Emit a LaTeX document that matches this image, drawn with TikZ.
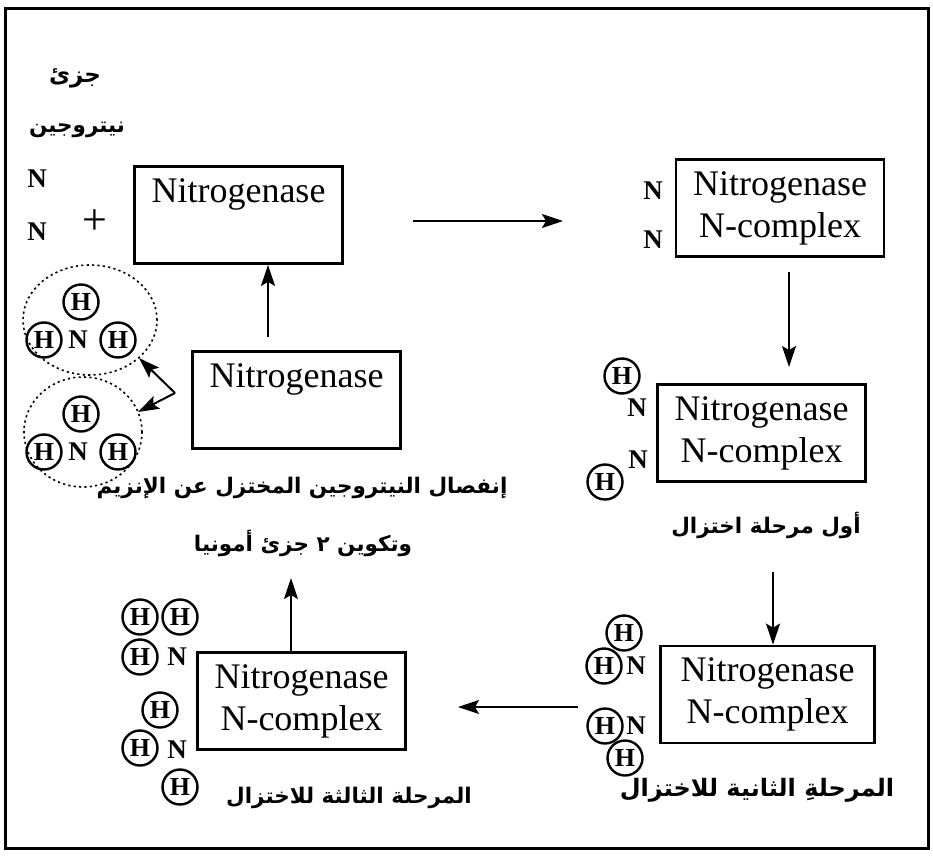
\documentclass[tikz,border=0pt]{standalone}
\usepackage{fontspec}
\setmainfont{Liberation Serif}
\newfontfamily\arabicfont[Script=Arabic]{DejaVu Sans Bold}
\TeXXeTstate=1
\usetikzlibrary{arrows.meta,calc,shapes.geometric}
\newcommand{\artxt}[1]{{\arabicfont\beginR #1\endR}}
\begin{document}
\begin{tikzpicture}[x=1pt,y=-1pt,
  box/.style={draw,line width=2.8pt,minimum width=208pt,minimum height=97pt,inner sep=0pt,align=center,font=\fontsize{36}{42}\selectfont},
  hc/.style={draw,circle,line width=2.4pt,minimum size=35pt,inner sep=0pt,font=\fontsize{26}{26}\selectfont\bfseries},
  nl/.style={inner sep=0pt,font=\fontsize{27}{27}\selectfont\bfseries},
  arl/.style={inner sep=0pt,font=\fontsize{21.5}{26}\selectfont},
  arr/.style={line width=2pt,-{Stealth[length=21pt,width=14pt,inset=4pt]}},
  dotel/.style={draw,ellipse,line width=1.6pt,dash pattern=on 2.2pt off 3.2pt,inner sep=0pt}
]
\useasboundingbox (0,0) rectangle (933,856);
\draw[line width=3pt] (5,9) rectangle (928,848);

% boxes
\node[box] (b1) at (238.5,215) {Nitrogenase\\\phantom{N-complex}};
\node[box] (b2) at (296.5,400) {Nitrogenase\\\phantom{N-complex}};
\node[box] (b3) at (780,208) {Nitrogenase\\N-complex};
\node[box] (b4) at (761.5,433) {Nitrogenase\\N-complex};
\node[box,minimum width=214pt] (b5) at (767.5,694.5) {Nitrogenase\\N-complex};
\node[box] (b6) at (301.5,701) {Nitrogenase\\N-complex};

% top-left labels
\node[arl,font=\fontsize{23}{26}\selectfont] (l1) at (75,78) {\artxt{جزئ}};
\node[arl] (l2) at (77,130) {\artxt{نيتروجين}};
\node[nl] (n1) at (37,179) {N};
\node[nl] (n2) at (37,232) {N};
\node[inner sep=0pt,font=\fontsize{44}{44}\selectfont] (plus) at (95,222) {+};

% ammonia molecules
\node[dotel,minimum width=134pt,minimum height=110pt] (e1) at (90,320) {};
\node[dotel,minimum width=118pt,minimum height=110pt] (e2) at (83,432) {};
\node[hc] (m1a) at (81,302) {H};
\node[hc] (m1b) at (44,340) {H};
\node[nl] (m1n) at (78,340) {N};
\node[hc] (m1c) at (118,340) {H};
\node[hc] (m2a) at (81,414) {H};
\node[hc] (m2b) at (44,452) {H};
\node[nl] (m2n) at (78,452) {N};
\node[hc] (m2c) at (118,452) {H};

% bracket arrows
\coordinate (v) at (175,393);
\coordinate (t1) at (139,358);
\coordinate (t2) at (138,412);
\draw[arr] (v) -- (t1);
\draw[arr] (v) -- (t2);

% box3 N labels
\node[nl] (n3) at (653,191) {N};
\node[nl] (n4) at (653,240) {N};

% box4 group
\node[hc] (h4a) at (622,376) {H};
\node[nl] (n5) at (637,408) {N};
\node[nl] (n6) at (638,460) {N};
\node[hc] (h4b) at (605,482) {H};
\node[arl] (l5) at (766,525) {\artxt{أول مرحلة اختزال}};

% box5 group
\node[hc] (h5a) at (624,633) {H};
\node[hc] (h5b) at (604,666) {H};
\node[nl] (n7) at (636,666) {N};
\node[hc] (h5c) at (605,726) {H};
\node[nl] (n8) at (636,726) {N};
\node[hc] (h5d) at (625,758) {H};
\node[arl,font=\fontsize{24}{28}\selectfont] (l6) at (757,790) {\artxt{المرحلةِ الثانية للاختزال}};

% box6 group
\node[hc] (h6a) at (140,617) {H};
\node[hc] (h6b) at (180,617) {H};
\node[hc] (h6c) at (140,657) {H};
\node[nl] (n9) at (177,657) {N};
\node[hc] (h6d) at (160,710) {H};
\node[hc] (h6e) at (140,748) {H};
\node[nl] (n10) at (177,750) {N};
\node[hc] (h6f) at (180,787) {H};
\node[arl] (l7) at (349,798) {\artxt{المرحلة الثالثة للاختزال}};

% bottom-left text
\node[arl] (l3) at (302,488) {\artxt{إنفصال النيتروجين المختزل عن الإنزيم}};
\node[arl] (l4) at (303,543) {\artxt{وتكوين ٢ جزئ أمونيا}};

% arrows
\coordinate (a1s) at (268,337);
\draw[arr] (a1s) -- (a1s |- b1.south);
\coordinate (a2s) at (413,221);
\coordinate (a2e) at (563,221);
\draw[arr] (a2s) -- (a2e);
\coordinate (a3s) at (789,272);
\coordinate (a3e) at (789,367);
\draw[arr] (a3s) -- (a3e);
\coordinate (a4s) at (773,572);
\draw[arr] (a4s) -- (a4s |- b5.north);
\coordinate (a5s) at (578,707);
\coordinate (a5e) at (458,707);
\draw[arr] (a5s) -- (a5e);
\coordinate (a6e) at (291,578);
\draw[arr] (a6e |- b6.north) -- (a6e);
\end{tikzpicture}
\end{document}
